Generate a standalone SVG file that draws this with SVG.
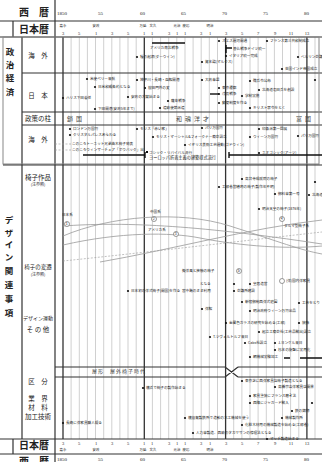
<svg xmlns="http://www.w3.org/2000/svg" width="322" height="462" viewBox="0 0 322 462">
<style>
text{font-family:"Noto Sans CJK JP","Noto Sans",sans-serif;fill:#222}
.h{font-size:10px;font-weight:bold;text-anchor:middle}
.v{font-size:8.5px;font-weight:bold;text-anchor:middle}
.l{font-size:6.5px;text-anchor:middle}
.n{font-size:4px;text-anchor:middle}
.s{font-size:3.6px}
.p{font-size:6px;fill:#444;letter-spacing:3px}
.yr{font-size:5px;font-family:"Liberation Serif",serif}
.era{font-size:3.4px;text-anchor:middle}
.num{font-size:4.5px;font-family:"Liberation Serif",serif;text-anchor:middle}
.yl{stroke:#b0b0b0;stroke-width:0.6}
.yt{stroke:#333;stroke-width:1.3}
.hl{stroke:#333;stroke-width:1.2;fill:none}
.gl{stroke:#888;stroke-width:1;fill:none}
.bar{stroke:#111;stroke-width:1.4}
.cv{stroke:#999;stroke-width:0.8;fill:none}
.dash{stroke:#999;stroke-width:0.6;stroke-dasharray:2 1.5;fill:none}
.dot{fill:#111}
.oc{fill:#fff;stroke:#555;stroke-width:0.6}
</style>
<rect width="322" height="462" fill="#fff"/>

<g id="year-lines">
<path class="yl" d="M71.1,37V439M79.3,37V439M87.4,37V439M95.5,37V439M103.7,37V439M111.8,37V439M119.9,37V439M128,37V439M136.2,37V439M152.4,37V439M160.6,37V439M168.7,37V439M176.8,37V439M185,37V439M193.1,37V439M201.2,37V439M209.3,37V439M217.5,37V439M233.7,37V439M241.9,37V439M250,37V439M258.1,37V439M266.3,37V439M274.4,37V439M282.5,37V439M290.6,37V439M298.8,37V439M315,37V439"/>
<path class="yt" d="M63,37V439M144.3,37V439M225.6,37V439M306.9,37V439"/>
</g>

<g id="frame">
<path class="hl" d="M0,21H322M0,37H322M0,439H322M0,454H322"/>
<path class="hl" d="M55,0V462M13,21V37M13,439V454M22,37V439"/>
<path class="hl" d="M22,73H322M22,112H322M22,125H322"/>
<rect class="gl" x="3" y="37" width="316" height="127"/>
<path class="hl" d="M3,165H322"/>
<path class="hl" d="M55,367H225M55,377H225M238,377H322M225,367L238,377M225,377L238,367M238,367H322"/>
</g>

<g id="header-top">
<text class="h" x="34" y="16">西　暦</text>
<text class="yr" x="57" y="15">1850</text>
<text class="yr" x="98" y="15">55</text>
<text class="yr" x="140" y="15">60</text>
<text class="yr" x="181" y="15">65</text>
<text class="yr" x="222" y="15">70</text>
<text class="yr" x="263" y="15">75</text>
<text class="yr" x="304" y="15">80</text>
<text class="h" x="34" y="33">日本暦</text>
<text class="era" x="63" y="27">嘉永</text>
<text class="era" x="96" y="27">安政</text>
<text class="era" x="143" y="27">万延</text>
<text class="era" x="153" y="27">文久</text>
<text class="era" x="177" y="27">元治</text>
<text class="era" x="186" y="27">慶応</text>
<text class="era" x="210" y="27">明治</text>
<text class="num" x="63" y="35">3</text><text class="num" x="79" y="35">5</text><text class="num" x="96" y="35">1</text><text class="num" x="112" y="35">3</text><text class="num" x="128" y="35">5</text><text class="num" x="144" y="35">1</text><text class="num" x="152" y="35">1</text><text class="num" x="169" y="35">3</text><text class="num" x="177" y="35">1</text><text class="num" x="185" y="35">1</text><text class="num" x="201" y="35">3</text><text class="num" x="210" y="35">1</text><text class="num" x="226" y="35">3</text><text class="num" x="242" y="35">5</text><text class="num" x="258" y="35">7</text><text class="num" x="275" y="35">9</text><text class="num" x="291" y="35">11</text><text class="num" x="307" y="35">13</text>
</g>

<g id="labels-left">
<text class="v" x="10" y="55">政</text>
<text class="v" x="10" y="68">治</text>
<text class="v" x="10" y="81">経</text>
<text class="v" x="10" y="95">済</text>
<text class="l" x="38" y="58">海　外</text>
<text class="l" x="38" y="98">日　本</text>
<text class="l" x="38" y="121">政策の柱</text>
<text class="l" x="38" y="142">海　外</text>
<text class="l" x="38" y="180">椅子作品</text>
<text class="n" x="38" y="186">(注参照)</text>
<text class="v" x="9" y="223">デ</text>
<text class="v" x="9" y="236">ザ</text>
<text class="v" x="9" y="248">イ</text>
<text class="v" x="9" y="260">ン</text>
<text class="v" x="9" y="274">関</text>
<text class="v" x="9" y="288">連</text>
<text class="v" x="9" y="302">事</text>
<text class="v" x="9" y="316">項</text>
<text class="l" x="38" y="269" style="font-size:5.5px">椅子の変遷</text>
<text class="n" x="38" y="276">(注参照)</text>
<text class="l" x="38" y="320" style="font-size:5px">デザイン運動</text>
<text class="l" x="38" y="332">そ の 他</text>
<text class="l" x="38" y="384">区　分</text>
<text class="l" x="38" y="401">業　界</text>
<text class="l" x="38" y="410">材　料</text>
<text class="l" x="38" y="419">加工技術</text>
</g>

<g id="overseas-top">
<path class="bar" d="M152,43H185"/>
<text class="s" x="150" y="48.5">アメリカ南北戦争</text>
<circle class="dot" cx="137" cy="57" r="1.1"/><text class="s" x="140" y="58.3">種の起源(ダーウィン)</text>
<circle class="dot" cx="202" cy="62" r="1.1"/><text class="s" x="205" y="63.3">資本論(マルクス)</text>
<circle class="dot" cx="219" cy="41" r="1.1"/><text class="s" x="222" y="42.3">スエズ運河開通</text>
<path class="bar" d="M226,45V53M226,48H232"/>
<text class="s" x="233" y="49.5">普仏戦争ドイツ統一</text>
<circle class="dot" cx="226" cy="56" r="1.1"/><text class="s" x="229" y="57.3">イタリア統一完成</text>
<circle class="dot" cx="267" cy="41" r="1.1"/><text class="s" x="270" y="42.3">フランス第三共和制成立</text>
<circle class="dot" cx="298" cy="57" r="1.1"/><text class="s" x="301" y="58.3">ベルリン会議</text>
<circle class="dot" cx="282" cy="69" r="1.1"/><text class="s" x="285" y="70.3">英国インド帝国成立</text>
</g>

<g id="japan">
<circle class="dot" cx="87" cy="79" r="1.1"/><text class="s" x="90" y="80.3">米使ペリー来航</text>
<circle class="dot" cx="95" cy="87" r="1.1"/><text class="s" x="98" y="88.3">日米和親条約となる</text>
<circle class="dot" cx="63" cy="98" r="1.1"/><text class="s" x="66" y="99.3">ハリス下田着任</text>
<circle class="dot" cx="95" cy="109" r="1.1"/><text class="s" x="98" y="110.3">下田開港(安政5年まで)</text>
<circle class="dot" cx="137" cy="80" r="1.1"/><text class="s" x="140" y="81.3">神奈川・長崎・函館開港</text>
<circle class="dot" cx="145" cy="88" r="1.1"/><text class="s" x="148" y="89.3">桜田門外の変</text>
<circle class="dot" cx="128" cy="97" r="1.1"/><text class="s" x="131" y="98.3">安政の大獄始まる</text>
<circle class="dot" cx="168" cy="101" r="1.1"/><text class="s" x="171" y="102.3">薩英戦争</text>
<circle class="dot" cx="160" cy="108" r="1.1"/><text class="s" x="163" y="109.3">遣欧使節派遣</text>
<circle class="dot" cx="202" cy="80" r="1.1"/><text class="s" x="205" y="81.3">大政奉還</text>
<circle class="dot" cx="219" cy="88" r="1.1"/><text class="s" x="222" y="89.3">東京遷都</text>
<path class="bar" d="M210,94H219"/>
<circle class="dot" cx="219" cy="94" r="1.1"/><text class="s" x="222" y="95.3">戊辰戦争</text>
<circle class="dot" cx="242" cy="96" r="1.1"/><text class="s" x="245" y="97.3">学制実施</text>
<circle class="dot" cx="219" cy="103" r="1.1"/><text class="s" x="222" y="104.3">郵便制度を作る</text>
<circle class="dot" cx="250" cy="81" r="1.1"/><text class="s" x="253" y="82.3">徴兵令公布</text>
<circle class="dot" cx="259" cy="90" r="1.1"/><text class="s" x="262" y="91.3">北海道屯田兵を創設</text>
<circle class="dot" cx="250" cy="108" r="1.1"/><text class="s" x="253" y="109.3">キリスト禁令をとく</text>
<circle class="dot" cx="315" cy="80" r="1.1"/>
</g>

<g id="policy">
<text class="p" x="67" y="121">鎖国</text>
<text class="p" x="176" y="121">和魂洋才</text>
<text class="p" x="296" y="121">富国</text>
</g>

<g id="overseas-bottom">
<circle class="dot" cx="70" cy="129" r="1.1"/><text class="s" x="73" y="130.3">ロンドン万国博</text>
<circle class="dot" cx="70" cy="135" r="1.1"/><text class="s" x="73" y="136.3">クリスタルパレスあらわる</text>
<path class="dash" d="M55,144H71M55,150H71"/>
<text class="s" x="72" y="145.3">このころトーネット兄弟曲木椅子発表</text>
<text class="s" x="72" y="151.3">このころウィンザーチェア「ボウバック」出</text>
<circle class="dot" cx="137" cy="129" r="1.1"/><text class="s" x="140" y="130.3">モリス「赤い家」</text>
<circle class="dot" cx="153" cy="137" r="1.1"/><text class="s" x="156" y="138.3">モリス・マーシャル&amp;フォークナー商会設立</text>
<circle class="dot" cx="185" cy="145" r="1.1"/><text class="s" x="188" y="146.3">イギリス美術工芸運動(ゴドウィン)</text>
<circle class="dot" cx="202" cy="128" r="1.1"/><text class="s" x="205" y="129.3">パリ万国博</text>
<circle class="dot" cx="259" cy="129" r="1.1"/><text class="s" x="262" y="130.3">印象派第一回展</text>
<circle class="dot" cx="250" cy="137" r="1.1"/><text class="s" x="253" y="138.3">ウィーン万国博</text>
<circle class="dot" cx="298" cy="136" r="1.1"/><text class="s" x="301" y="137.3">パリ万国博</text>
<path class="bar" d="M83,155H145M145,152V158"/>
<rect x="146" y="151" width="2" height="2" fill="#111"/>
<text class="s" x="149" y="153.5">ゴシック・リバイバル流行</text>
<text class="s" x="149" y="158.8" style="font-size:4.2px">ヨーロッパ折衷主義の建築様式流行</text>
<path class="bar" d="M229,155H322M229,152V158"/>
<circle class="dot" cx="259" cy="153" r="1.1"/><text class="s" x="262" y="153.5">ネオゴシック(アーツ)</text>
</g>

<g id="chair-works">
<circle class="dot" cx="242" cy="179" r="1.1"/><text class="s" x="245" y="180.3">高台寺成就院の椅子</text>
<circle class="dot" cx="219" cy="187" r="1.1"/><text class="s" x="222" y="188.3">工部省営繕局の椅子(製作年不明)</text>
<circle class="dot" cx="275" cy="194" r="1.1"/><text class="s" x="278" y="195.3">御料車第一号</text>
<circle class="dot" cx="309" cy="195" r="1.1"/><text class="s" x="312" y="196.3">北海道</text>
<circle class="dot" cx="259" cy="209" r="1.1"/><text class="s" x="262" y="210.3">明治天皇の椅子(1876年)</text>
<circle class="dot" cx="315" cy="182" r="1.1"/>
</g>

<g id="chair-flow">
<path class="cv" d="M63,226C120,222 190,224 322,244"/>
<path class="cv" d="M63,236C110,216 180,210 230,226S300,250 322,254"/>
<path class="cv" d="M63,245C120,232 170,232 200,238S280,250 322,246"/>
<path class="cv" d="M100,262C170,250 250,228 322,220"/>
<path class="dash" d="M63,261C150,252 250,240 322,232"/>
<text class="s" x="62" y="216">日本系</text>
<circle class="oc" cx="67" cy="224" r="2.5"/><text class="s" x="65.8" y="225.3">1</text>
<text class="s" x="150" y="213">中国系</text>
<circle class="oc" cx="154" cy="219" r="2.5"/><text class="s" x="152.8" y="220.3">2</text>
<text class="s" x="148" y="231">アメリカ系</text>
<circle class="oc" cx="176" cy="234" r="2.5"/><text class="s" x="174.8" y="235.3">3</text>
<circle class="oc" cx="282" cy="219" r="2.5"/><text class="s" x="280.8" y="220.3">4</text>
<text class="s" x="284" y="227">ダルマ型椅子系</text>
<text class="s" x="182" y="272">擬洋風と接触の椅子</text>
<circle class="oc" cx="239" cy="271" r="2.5"/><text class="s" x="237.8" y="272.3">5</text>
<circle class="oc" cx="282" cy="281" r="2.5"/><text class="s" x="286" y="282.3">(洋)国内洋家具</text>
</g>

<g id="movement">
<circle class="dot" cx="128" cy="291" r="1.1"/><text class="s" x="131" y="292.3">日本初の洋式椅子(開国)を作る</text>
<text class="s" x="182" y="292.3">宮中賄のまま利用</text>
<text class="s" x="200" y="285.3">となる</text>
<circle class="dot" cx="234" cy="284" r="1.1"/>
<circle class="dot" cx="250" cy="284" r="1.1"/><text class="s" x="253" y="285.3">皇居造営</text>
<circle class="dot" cx="234" cy="291" r="1.1"/><text class="s" x="237" y="292.3">会議所建設</text>
<circle class="dot" cx="202" cy="309" r="1.1"/><text class="s" x="205" y="310.3">洋館</text>
<circle class="dot" cx="242" cy="302" r="1.1"/><text class="s" x="245" y="303.3">新宿御苑西洋式庭園</text>
<circle class="dot" cx="250" cy="311" r="1.1"/><text class="s" x="253" y="312.3">明治政府ウィーン万博出品</text>
<circle class="dot" cx="299" cy="303" r="1.1"/><text class="s" x="302" y="304.3">工芸をとり</text>
<circle class="dot" cx="226" cy="323" r="1.1"/><text class="s" x="229" y="324.3">金属色ガラスの研究を始める(工部)</text>
<circle class="dot" cx="299" cy="323" r="1.1"/><text class="s" x="302" y="324.3">装飾</text>
<circle class="dot" cx="259" cy="332" r="1.1"/><text class="s" x="262" y="333.3">起立工商会社(工芸品輸出)設立</text>
<circle class="dot" cx="210" cy="337" r="1.1"/><text class="s" x="213" y="338.3">T.ツヴェルトルフ来日</text>
<circle class="dot" cx="245" cy="343" r="1.1"/><text class="s" x="248" y="344.3">Cabs社設立</text>
<circle class="dot" cx="275" cy="343" r="1.1"/><text class="s" x="278" y="344.3">J.ヨンケル来日</text>
<circle class="dot" cx="275" cy="350" r="1.1"/><text class="s" x="278" y="351.3">杉本の旋盤に実用化</text>
<circle class="dot" cx="250" cy="357" r="1.1"/><text class="s" x="253" y="358.3">網機械実験加工</text>
<path class="bar" d="M284,358H290M300,358H322"/>
</g>

<g id="period">
<text class="p" x="92" y="373" style="font-size:5px;letter-spacing:1px">屋形　屋外椅子時代</text>
</g>

<g id="industry">
<circle class="dot" cx="143" cy="388" r="1.1"/><text class="s" x="146" y="389.3">横浜で椅子の製作始まる</text>
<circle class="dot" cx="63" cy="423" r="1.1"/><text class="s" x="66" y="424.3">長崎に洋家具職人現る</text>
<circle class="dot" cx="193" cy="433" r="1.1"/><text class="s" x="196" y="434.3">人力車製造、西欧のタガヤサンの修理法となる</text>
<circle class="dot" cx="242" cy="381" r="1.1"/><text class="s" x="245" y="382.3">東京芝に西洋家具店椅子製造となる</text>
<circle class="dot" cx="275" cy="387" r="1.1"/><text class="s" x="278" y="388.3">高橋宗吉洋家具店開業</text>
<circle class="dot" cx="250" cy="396" r="1.1"/><text class="s" x="253" y="397.3">家具塗装にフランス磨き法</text>
<circle class="dot" cx="250" cy="403" r="1.1"/><text class="s" x="253" y="404.3">西陣にジャガード輸入</text>
<circle class="dot" cx="312" cy="403" r="1.1"/>
<circle class="dot" cx="292" cy="411" r="1.1"/><text class="s" x="295" y="412.3">鉄の鋳物</text>
<circle class="dot" cx="282" cy="418" r="1.1"/><text class="s" x="285" y="419.3">機械製作所</text>
<circle class="dot" cx="185" cy="418" r="1.1"/><text class="s" x="188" y="419.3">横須賀製鉄所で造船の木工機械を使う</text>
<circle class="dot" cx="242" cy="425" r="1.1"/><text class="s" x="245" y="426.3">化粧木材用の機械製造を始める(工部省)</text>
<circle class="dot" cx="267" cy="439" r="1.1"/><text class="s" x="270" y="440.3">マッチ製造始まる</text>
</g>

<g id="header-bottom">
<text class="h" x="34" y="449">日本暦</text>
<text class="num" x="63" y="445">3</text><text class="num" x="79" y="445">5</text><text class="num" x="96" y="445">1</text><text class="num" x="112" y="445">3</text><text class="num" x="128" y="445">5</text><text class="num" x="144" y="445">1</text><text class="num" x="152" y="445">1</text><text class="num" x="169" y="445">3</text><text class="num" x="177" y="445">1</text><text class="num" x="185" y="445">1</text><text class="num" x="201" y="445">3</text><text class="num" x="210" y="445">1</text><text class="num" x="226" y="445">3</text><text class="num" x="242" y="445">5</text><text class="num" x="258" y="445">7</text><text class="num" x="275" y="445">9</text><text class="num" x="291" y="445">11</text><text class="num" x="307" y="445">13</text>
<text class="era" x="63" y="451">嘉永</text>
<text class="era" x="96" y="451">安政</text>
<text class="era" x="143" y="451">万延</text>
<text class="era" x="153" y="451">文久</text>
<text class="era" x="177" y="451">元治</text>
<text class="era" x="186" y="451">慶応</text>
<text class="era" x="210" y="451">明治</text>
<text class="h" x="34" y="465">西　暦</text>
<text class="yr" x="57" y="461">1850</text>
<text class="yr" x="98" y="461">55</text>
<text class="yr" x="140" y="461">60</text>
<text class="yr" x="181" y="461">65</text>
<text class="yr" x="222" y="461">70</text>
<text class="yr" x="263" y="461">75</text>
<text class="yr" x="304" y="461">80</text>
</g>
</svg>
